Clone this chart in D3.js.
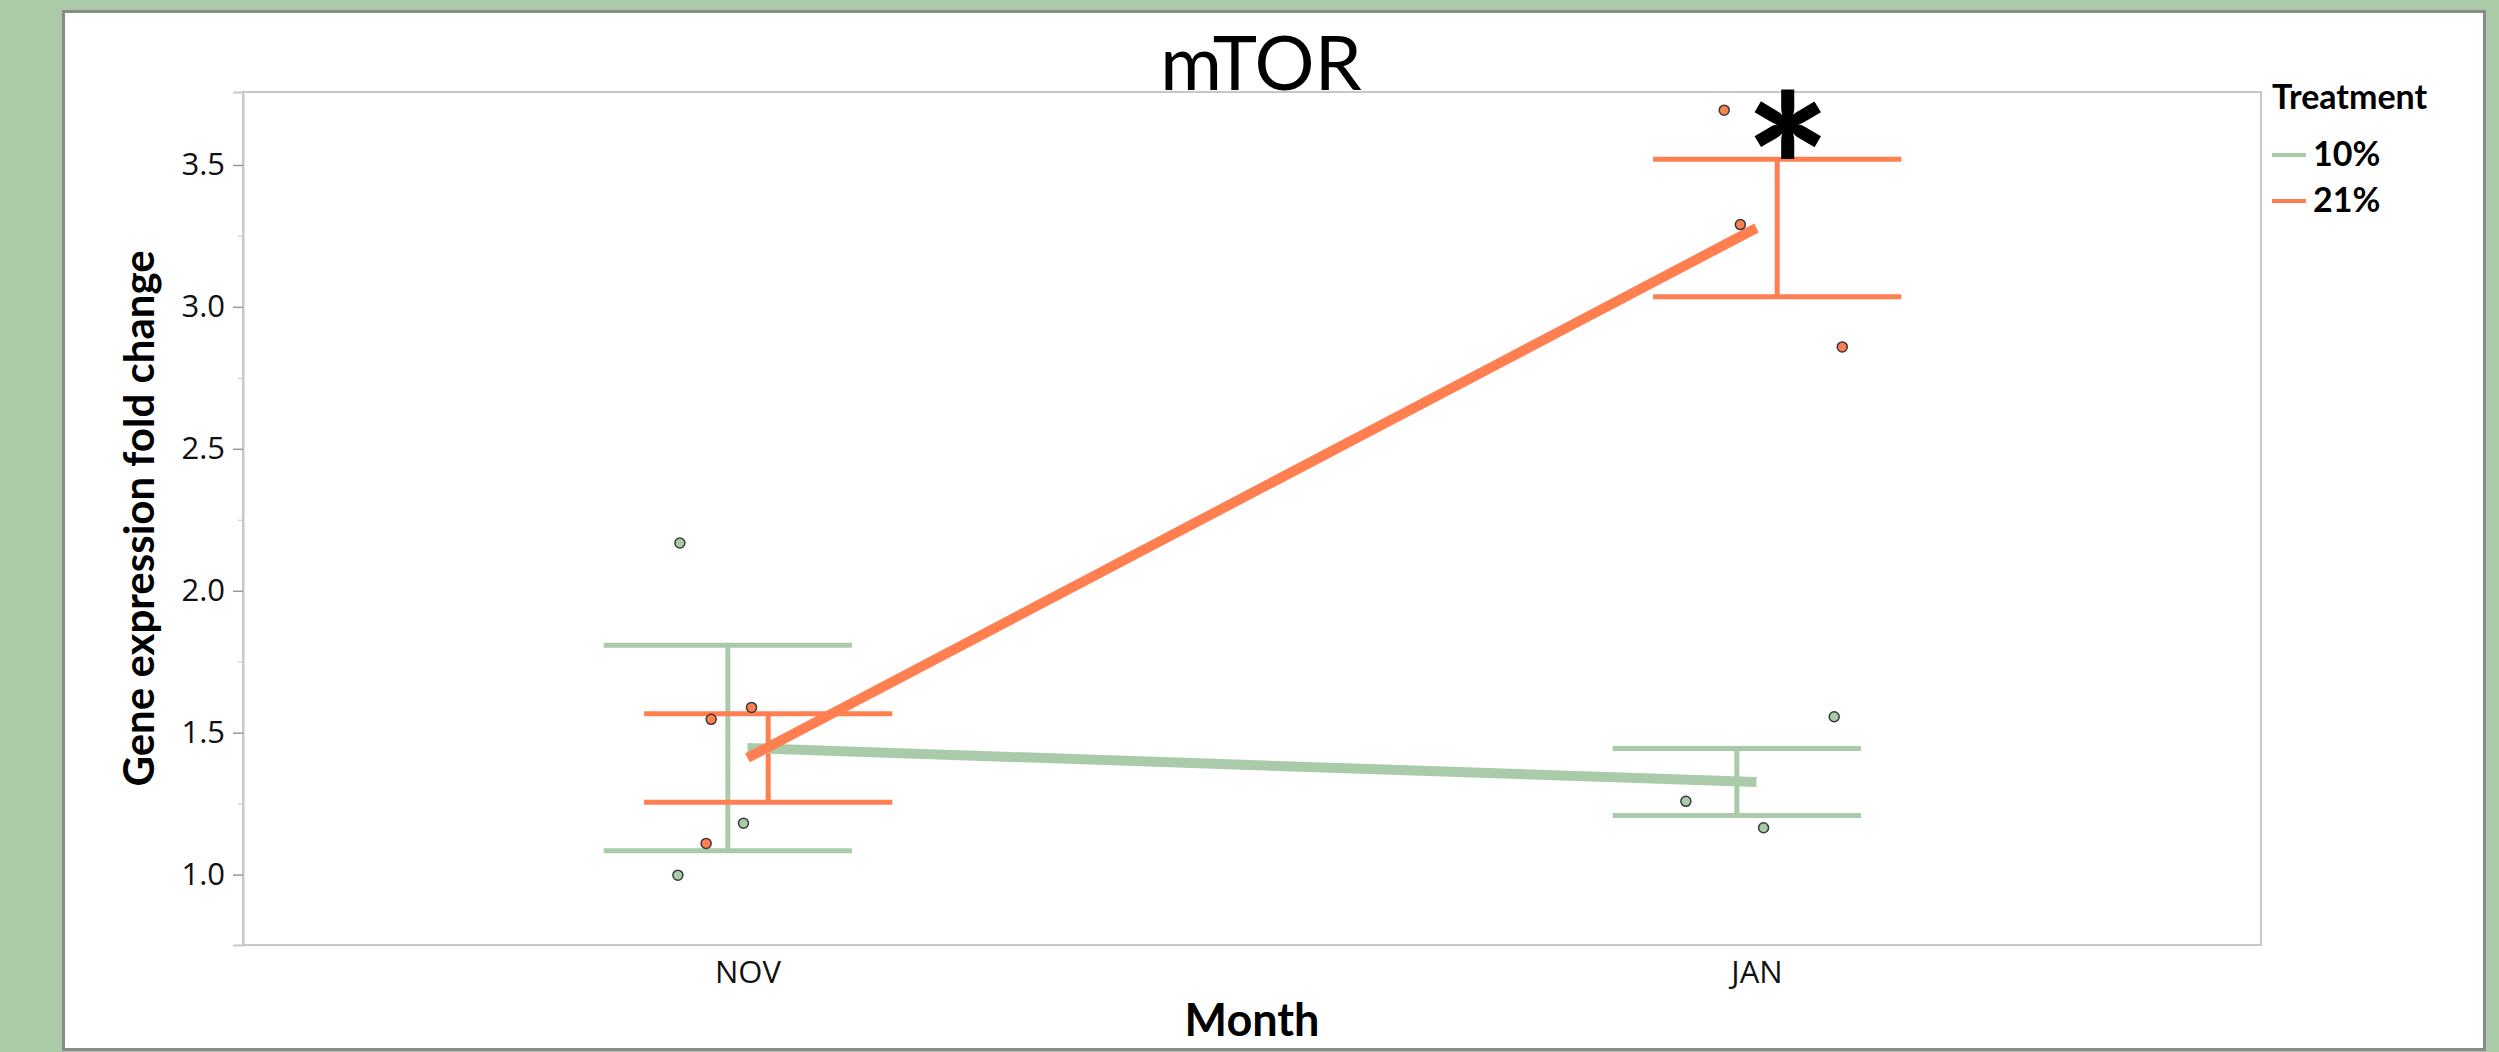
<!DOCTYPE html>
<html lang="en">
<head>
<meta charset="UTF-8">
<title>mTOR</title>
<script src="https://d3js.org/d3.v7.min.js"></script>
<style>
    body {
        margin: 0;
        background-color: #aacaa8;
        overflow: hidden;
    }
    .panel {
        position: absolute;
        left: 62px;
        top: 10px;
        width: 2418px;
        height: 1035px;
        background: #fff;
        border: 3px solid #8a8a8a;
    }
    svg {
        position: absolute;
        left: 0;
        top: 0;
    }
    .tick text {
        font-family: "Open Sans", sans-serif;
        font-size: 31px;
        fill: #111;
    }
    .axis-title {
        font-family: Lato, sans-serif;
        font-weight: bold;
        fill: #000;
    }
</style>
</head>
<body>
<div class="panel"></div>
<svg id="chart" width="2499" height="1052"></svg>
<script>
    // categories and series
    const months = ["NOV", "JAN"];
    const treatments = ["10%", "21%"];
    const colors = ["#a9cba9", "#ff7f50"];

    // group means (by month) and error half-widths
    const mean10 = [1.446, 1.326];
    const mean21 = [1.411, 3.278];
    const err10 = [0.362, 0.118];
    const err21 = [0.156, 0.242];

    // individual samples: [month index, horizontal jitter, value]
    const pts10 = [[0, -0.067, 2.168], [0, -0.004, 1.181], [0, -0.069, 0.998],
                   [1, 0.077, 1.556], [1, -0.070, 1.258], [1, 0.007, 1.165]];
    const pts21 = [[0, 0.004, 1.589], [0, -0.036, 1.547], [0, -0.041, 1.110],
                   [1, -0.032, 3.693], [1, -0.016, 3.290], [1, 0.085, 2.859]];

    const yTicks = [1.0, 1.5, 2.0, 2.5, 3.0, 3.5];
    const yMinor = [1.25, 1.75, 2.25, 2.75, 3.25];

    const plotL = 243, plotR = 2261, plotT = 92, plotB = 945;

    const svg = d3.select("#chart");

    const x = d3.scaleLinear().domain([-0.5, 1.5]).range([plotL, plotR]);
    const y = d3.scaleLinear().domain([0.752, 3.757]).range([plotB, plotT]);

    // plot frame
    svg.append("rect")
        .attr("x", plotL).attr("y", plotT)
        .attr("width", plotR - plotL).attr("height", plotB - plotT)
        .attr("fill", "none").attr("stroke", "#c8c8c8").attr("stroke-width", 2);

    // y axis
    const yAxis = svg.append("g")
        .attr("transform", `translate(${plotL},0)`)
        .call(d3.axisLeft(y).tickValues(yTicks).tickFormat(d3.format(".1f")).tickSize(10).tickPadding(8));
    yAxis.select(".domain").attr("stroke", "#c8c8c8").attr("stroke-width", 2);
    yAxis.selectAll(".tick line").attr("stroke", "#9a9a9a").attr("stroke-width", 1.5);

    svg.append("g")
        .attr("transform", `translate(${plotL},0)`)
        .call(d3.axisLeft(y).tickValues(yMinor).tickFormat("").tickSize(5))
        .call(g => g.select(".domain").remove())
        .selectAll(".tick line").attr("stroke", "#c8c8c8");

    // x axis (labels only)
    const xAxis = svg.append("g")
        .attr("transform", `translate(0,${plotB})`)
        .call(d3.axisBottom(x).tickValues([0, 1]).tickFormat(i => months[i]).tickSize(0).tickPadding(16));
    xAxis.select(".domain").remove();

    const series = [
        { name: treatments[0], mean: mean10, err: err10, pts: pts10, color: colors[0], shift: -0.0195 },
        { name: treatments[1], mean: mean21, err: err21, pts: pts21, color: colors[1], shift: 0.0205 }
    ];
    const capHalf = 0.123;

    // error bars
    series.forEach(s => {
        const g = svg.append("g").attr("stroke", s.color).attr("stroke-width", 5);
        s.mean.forEach((m, i) => {
            const cx = x(i + s.shift);
            g.append("line").attr("x1", cx).attr("x2", cx)
                .attr("y1", y(m - s.err[i])).attr("y2", y(m + s.err[i]));
            [m - s.err[i], m + s.err[i]].forEach(v => {
                g.append("line")
                    .attr("x1", x(i + s.shift - capHalf)).attr("x2", x(i + s.shift + capHalf))
                    .attr("y1", y(v)).attr("y2", y(v));
            });
        });
    });

    // mean lines
    const line = d3.line().x((d, i) => x(i)).y(d => y(d));
    series.forEach(s => {
        svg.append("path")
            .datum(s.mean)
            .attr("d", line)
            .attr("fill", "none")
            .attr("stroke", s.color)
            .attr("stroke-width", 10);
    });

    // sample points
    series.forEach(s => {
        svg.append("g").selectAll("circle")
            .data(s.pts)
            .join("circle")
            .attr("cx", d => x(d[0] + d[1]))
            .attr("cy", d => y(d[2]))
            .attr("r", 5)
            .attr("fill", s.color)
            .attr("stroke", "#3a3a3a")
            .attr("stroke-width", 1.5);
    });

    // significance mark
    svg.append("text")
        .attr("x", x(1 + 0.031))
        .attr("y", y(mean21[1] + err21[1]) + 83)
        .attr("text-anchor", "middle")
        .attr("font-family", "Lato, sans-serif")
        .attr("font-weight", 900)
        .attr("font-size", 200)
        .text("*");

    // titles
    svg.append("text")
        .attr("x", 1261).attr("y", 90)
        .attr("text-anchor", "middle")
        .attr("font-family", "Lato, sans-serif")
        .attr("font-size", 75)
        .text("mTOR");

    svg.append("text")
        .attr("class", "axis-title")
        .attr("x", (plotL + plotR) / 2).attr("y", 1036)
        .attr("text-anchor", "middle")
        .attr("font-size", 45)
        .text("Month");

    svg.append("text")
        .attr("class", "axis-title")
        .attr("transform", `translate(154,${(plotT + plotB) / 2}) rotate(-90)`)
        .attr("text-anchor", "middle")
        .attr("font-size", 42)
        .attr("font-weight", 900)
        .text("Gene expression fold change");

    // legend
    const legend = svg.append("g").attr("transform", "translate(2272,0)");
    legend.append("text")
        .attr("class", "axis-title")
        .attr("x", 0).attr("y", 109)
        .attr("font-size", 34)
        .text("Treatment");
    treatments.forEach((t, i) => {
        const ly = 155 + i * 46;
        legend.append("line")
            .attr("x1", 0).attr("x2", 34)
            .attr("y1", ly).attr("y2", ly)
            .attr("stroke", colors[i]).attr("stroke-width", 4);
        legend.append("text")
            .attr("class", "axis-title")
            .attr("x", 41).attr("y", ly + 11)
            .attr("font-size", 34)
            .text(t);
    });
</script>
</body>
</html>
